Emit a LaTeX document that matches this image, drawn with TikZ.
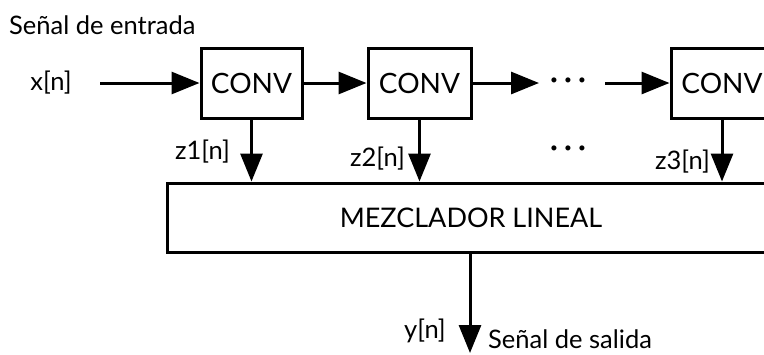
\documentclass[tikz,border=0pt]{standalone}
\usepackage{fontspec}
\setmainfont{Lato}
\usetikzlibrary{arrows.meta}
\newcommand{\mydots}{\makebox[14pt]{·}\makebox[14pt]{·}\makebox[14pt]{·}}
\begin{document}
\begin{tikzpicture}[x=1pt,y=-1pt,
  blk/.style={draw, line width=3pt, minimum height=70pt, inner sep=0pt, font=\fontsize{28}{30}\selectfont},
  arr/.style={line width=3pt, -{Triangle[length=28pt,width=22pt]}},
  lbl/.style={inner sep=0pt, font=\fontsize{25.5}{27}\selectfont},
  dotsn/.style={inner sep=0pt, font=\fontsize{34}{36}\selectfont},
]
\useasboundingbox (0,0) rectangle (764,354);
\clip (0,0) rectangle (764,354);
\node[lbl, anchor=base west] (tin) at (9,34) {Señal de entrada};
\node[lbl] (xn) at (51,83) {x[n]};
\coordinate (xs) at (100,83);
\node[blk, minimum width=101pt] (c1) at (251.5,83) {CONV};
\node[blk, minimum width=103pt] (c2) at (419.5,83) {CONV};
\node[blk, minimum width=102pt] (c3) at (722,83) {CONV};
\node[dotsn] (d1) at (568,84) {\mydots};
\coordinate (d1a) at (539,83);
\coordinate (d1b) at (605,83);
\node[blk, minimum width=608pt, minimum height=69pt, font=\fontsize{27}{29}\selectfont] (mix) at (471,217.5) {MEZCLADOR LINEAL};
\draw[arr] (xs) -- (c1.west);
\draw[arr] (c1.east) -- (c2.west);
\draw[arr] (c2.east) -- (d1a);
\draw[arr] (d1b) -- (c3.west);
\draw[arr] (c1.south) -- (c1.south |- mix.north);
\draw[arr] (c2.south) -- (c2.south |- mix.north);
\draw[arr] (c3.south) -- (c3.south |- mix.north);
\node[lbl, anchor=east] (z1) at (230,152) {z1[n]};
\node[lbl, anchor=east] (z2) at (405,159) {z2[n]};
\node[lbl, anchor=east] (z3) at (710,162) {z3[n]};
\node[dotsn] (d2) at (568,152) {\mydots};
\coordinate (yend) at (470,353);
\draw[arr] (mix.south -| yend) -- (yend);
\node[lbl] (yn) at (425,331) {y[n]};
\node[lbl, anchor=base west] (tout) at (488,348) {Señal de salida};
\end{tikzpicture}
\end{document}
